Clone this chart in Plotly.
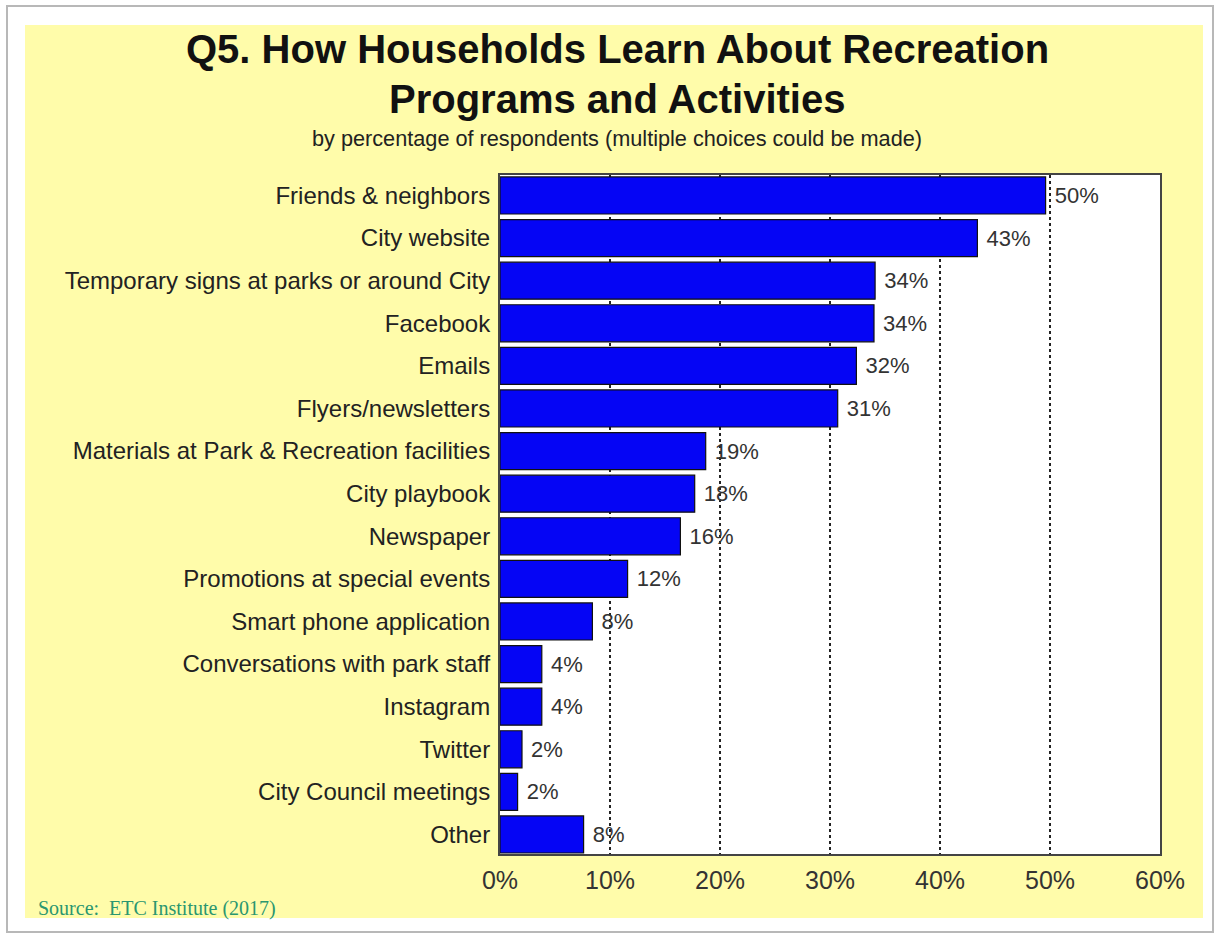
import plotly.graph_objects as go

# Survey results: share of respondents naming each information source
categories = [
    "Friends & neighbors",
    "City website",
    "Temporary signs at parks or around City",
    "Facebook",
    "Emails",
    "Flyers/newsletters",
    "Materials at Park & Recreation facilities",
    "City playbook",
    "Newspaper",
    "Promotions at special events",
    "Smart phone application",
    "Conversations with park staff",
    "Instagram",
    "Twitter",
    "City Council meetings",
    "Other",
]
percents = [49.6, 43.4, 34.1, 34.0, 32.4, 30.7, 18.7, 17.7, 16.4, 11.6, 8.4, 3.8, 3.8, 2.0, 1.6, 7.6]
x_ticks = [0, 10, 20, 30, 40, 50, 60]
x_tick_labels = ["0%", "10%", "20%", "30%", "40%", "50%", "60%"]

W, H = 1217, 935
L, R, T, B = 500, 1160, 175, 854  # plot area in pixels


def px(xp):
    return (xp - L) / (R - L)


def py(yp):
    return (B - yp) / (B - T)


fig = go.Figure(
    go.Bar(
        x=percents,
        y=categories,
        orientation="h",
        marker=dict(color="#0505F5", line=dict(color="#111111", width=1.2)),
        texttemplate="\u00a0%{x:.0f}%",
        textposition="outside",
        cliponaxis=False,
        textfont=dict(family="Liberation Sans, Arial", size=22, color="#333333"),
        hoverinfo="skip",
    )
)

shapes = [
    # outer frame
    dict(type="rect", xref="paper", yref="paper", layer="below",
         x0=px(7), x1=px(1213), y0=py(932), y1=py(6),
         line=dict(color="#B8B8B8", width=2), fillcolor="#FFFFFF"),
    # yellow panel
    dict(type="rect", xref="paper", yref="paper", layer="below",
         x0=px(25), x1=px(1203), y0=py(918), y1=py(25),
         line=dict(width=0), fillcolor="#FFFCAA"),
    # white plotting area
    dict(type="rect", xref="paper", yref="paper", layer="below",
         x0=0, x1=1, y0=0, y1=1,
         line=dict(width=0), fillcolor="#FFFFFF"),
]

annotations = [
    dict(text="<b>Q5. How Households Learn About Recreation</b>", x=px(617), y=py(49),
         xref="paper", yref="paper", showarrow=False, xanchor="center", yanchor="middle",
         font=dict(family="Liberation Sans, Arial", size=40, color="#111111")),
    dict(text="<b>Programs and Activities</b>", x=px(617), y=py(99),
         xref="paper", yref="paper", showarrow=False, xanchor="center", yanchor="middle",
         font=dict(family="Liberation Sans, Arial", size=40, color="#111111")),
    dict(text="by percentage of respondents (multiple choices could be made)", x=px(617), y=py(139),
         xref="paper", yref="paper", showarrow=False, xanchor="center", yanchor="middle",
         font=dict(family="Liberation Sans, Arial", size=21.7, color="#222222")),
    dict(text="Source:  ETC Institute (2017)", x=px(36), y=py(908),
         xref="paper", yref="paper", showarrow=False, xanchor="left", yanchor="middle",
         font=dict(family="Liberation Serif, Times New Roman", size=20, color="#2A9670")),
]

fig.update_layout(
    width=W,
    height=H,
    margin=dict(l=L, r=W - R, t=T, b=H - B, pad=0),
    paper_bgcolor="#FFFFFF",
    plot_bgcolor="#FFFFFF",
    showlegend=False,
    bargap=0.13,
    shapes=shapes,
    annotations=annotations,
    xaxis=dict(
        range=[0, 60],
        tickvals=x_ticks,
        ticktext=x_tick_labels,
        showgrid=True,
        gridcolor="#222222",
        gridwidth=2,
        griddash="dot",
        zeroline=False,
        showline=True,
        mirror=True,
        linecolor="#444444",
        linewidth=2,
        ticks="",
        ticklabelstandoff=3,
        tickfont=dict(family="Liberation Sans, Arial", size=25, color="#333333"),
    ),
    yaxis=dict(
        type="category",
        range=[15.458, -0.481],
        showgrid=False,
        zeroline=False,
        showline=True,
        mirror=True,
        linecolor="#444444",
        linewidth=2,
        ticks="",
        ticklabelstandoff=3,
        tickfont=dict(family="Liberation Sans, Arial", size=24, color="#222222"),
    ),
)

fig.write_html("out.html")
